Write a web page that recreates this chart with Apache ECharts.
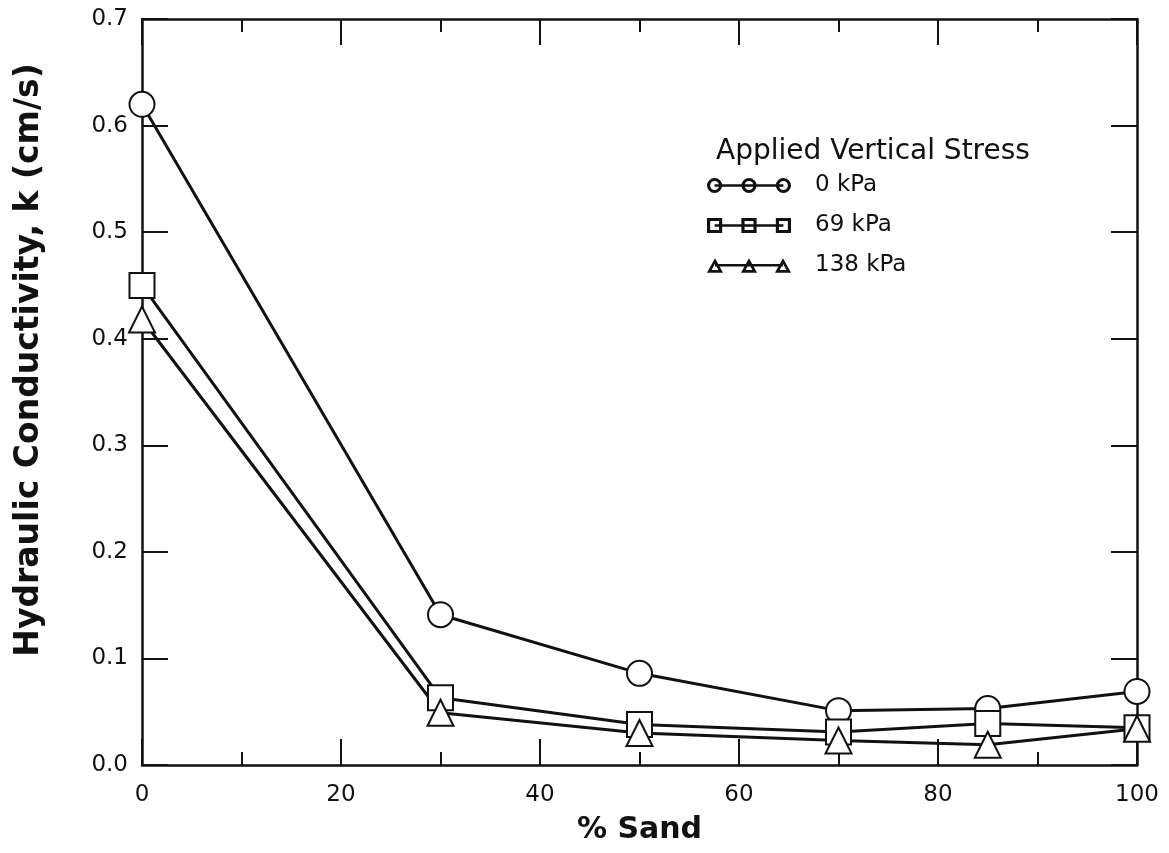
<!DOCTYPE html>
<html><head><meta charset="utf-8">
<script src="https://cdn.jsdelivr.net/npm/echarts@6/dist/echarts.min.js"></script>
<style>html,body{margin:0;padding:0;background:#fff}#c{width:1169px;height:853px}</style>
</head><body><div id="c"></div>
<script>
const sandPct = [0, 30, 50, 70, 85, 100];
const k0kPa   = [0.620, 0.141, 0.086, 0.051, 0.053, 0.069];
const k69kPa  = [0.450, 0.063, 0.038, 0.031, 0.039, 0.035];
const k138kPa = [0.418, 0.049, 0.030, 0.023, 0.019, 0.034];
const seriesNames = ['0 kPa', '69 kPa', '138 kPa'];
const xTicks = [0, 20, 40, 60, 80, 100];
const yTicks = [0.0, 0.1, 0.2, 0.3, 0.4, 0.5, 0.6, 0.7];
const xTitle = '% Sand';
const yTitle = 'Hydraulic Conductivity, k (cm/s)';
const legendTitle = 'Applied Vertical Stress';

const FONT = 'DejaVu Sans';
function pairs(ys){ return sandPct.map((x,i)=>[x, ys[i]]); }

// legend icons: three hollow markers joined by a line (filled path with holes)
const centers = [8, 42, 76];
const bar = 'M8,8.7 L76,8.7 L76,11.3 L8,11.3 Z ';
function circleIcon(){
  let p = bar;
  centers.forEach(c=>{
    p += `M${c-7.5},10 A7.5,7.5 0 1,1 ${c+7.5},10 A7.5,7.5 0 1,1 ${c-7.5},10 Z `;
    p += `M${c-4.4},10 A4.4,4.4 0 1,0 ${c+4.4},10 A4.4,4.4 0 1,0 ${c-4.4},10 Z `;
  });
  return 'path://' + p;
}
function rectIcon(){
  let p = bar;
  centers.forEach(c=>{
    p += `M${c-7.5},2.5 L${c+7.5},2.5 L${c+7.5},17.5 L${c-7.5},17.5 Z `;
    p += `M${c-4.4},5.6 L${c-4.4},14.4 L${c+4.4},14.4 L${c+4.4},5.6 Z `;
  });
  return 'path://' + p;
}
function triIcon(){
  let p = bar;
  centers.forEach(c=>{
    p += `M${c-8},17.5 L${c},3 L${c+8},17.5 Z `;
    p += `M${c-3.4},14.8 L${c+3.4},14.8 L${c},8.4 Z `;
  });
  return 'path://' + p;
}

const GRID = {left: 142, right: 32, top: 19, bottom: 88};
const plotWidth = 1169 - GRID.left - GRID.right;
const TICK_PX = 26;
const tickLenX = TICK_PX / plotWidth * (xTicks[xTicks.length-1] - xTicks[0]);

const chart = echarts.init(document.getElementById('c'));
const tickStyle = {color: '#111', width: 2};
function axisLine(show){ return {show: show, onZero: false, lineStyle: {color: '#111', width: 2.5}}; }
const lab = {color: '#111', fontFamily: FONT, fontSize: 23};

const seriesList = [
  {name: seriesNames[0], type: 'line', data: pairs(k0kPa), symbol: 'emptyCircle', symbolSize: 25},
  {name: seriesNames[1], type: 'line', data: pairs(k69kPa), symbol: 'emptyRect', symbolSize: 25},
  {name: seriesNames[2], type: 'line', data: pairs(k138kPa), symbol: 'emptyTriangle', symbolSize: 26}
].map(s => Object.assign(s, {
  clip: false,
  color: '#111',
  lineStyle: {color: '#111', width: 3},
  itemStyle: {color: '#111', borderColor: '#111', borderWidth: 3},
  emphasis: {disabled: true}
}));
// inward tick marks on the left frame, placed through the axis scales
seriesList[0].markLine = {
  silent: true, symbol: 'none', animation: false, z: 1,
  label: {show: false},
  lineStyle: {color: '#111', width: 2, type: 'solid'},
  emphasis: {disabled: true},
  data: yTicks.slice(1, -1).map(v => [{coord: [xTicks[0], v]}, {coord: [xTicks[0] + tickLenX, v]}])
};

chart.setOption({
  animation: false,
  backgroundColor: '#fff',
  grid: GRID,
  title: {
    text: legendTitle, left: 711, top: 133,
    textStyle: {fontFamily: FONT, fontSize: 28, fontWeight: 'normal', color: '#111'}
  },
  graphic: [{
    type: 'text', x: 29, y: 360, rotation: Math.PI / 2,
    style: {text: yTitle, fill: '#111', font: 'bold 33px "DejaVu Sans"', align: 'center', verticalAlign: 'middle'}
  }],
  legend: {
    orient: 'vertical', left: 707, top: 174, padding: 0,
    itemWidth: 84, itemHeight: 20, itemGap: 17,
    textStyle: {fontFamily: FONT, fontSize: 23, color: '#111', padding: [0,0,0,19]},
    itemStyle: {color: '#111', borderWidth: 0},
    data: [
      {name: seriesNames[0], icon: circleIcon()},
      {name: seriesNames[1], icon: rectIcon()},
      {name: seriesNames[2], icon: triIcon()}
    ]
  },
  xAxis: [
    {
      type: 'value', min: xTicks[0], max: xTicks[xTicks.length-1], interval: 20,
      name: xTitle, nameLocation: 'middle', nameGap: 50,
      nameTextStyle: {fontFamily: FONT, fontSize: 30, fontWeight: 'bold', color: '#111'},
      axisLine: axisLine(true), splitLine: {show: false},
      axisTick: {show: true, inside: true, length: TICK_PX, lineStyle: tickStyle},
      minorTick: {show: true, splitNumber: 2, length: 13, lineStyle: tickStyle},
      axisLabel: Object.assign({margin: 19}, lab)
    },
    {
      type: 'value', position: 'top', min: 0, max: 100, interval: 20,
      axisLine: axisLine(true), splitLine: {show: false},
      axisTick: {show: true, inside: true, length: TICK_PX, lineStyle: tickStyle},
      minorTick: {show: true, splitNumber: 2, length: 13, lineStyle: tickStyle},
      axisLabel: {show: false}
    }
  ],
  yAxis: [
    {
      type: 'value', position: 'left', min: yTicks[0], max: yTicks[yTicks.length-1], interval: 0.1,
      axisLine: axisLine(true), splitLine: {show: false},
      axisTick: {show: true, inside: true, length: TICK_PX, lineStyle: tickStyle},
      axisLabel: Object.assign({margin: 14, formatter: v => v.toFixed(1)}, lab)
    },
    {
      type: 'value', position: 'right', min: 0, max: 0.7, interval: 0.1,
      axisLine: axisLine(true), splitLine: {show: false},
      axisTick: {show: true, inside: true, length: TICK_PX, lineStyle: tickStyle},
      axisLabel: {show: false}
    }
  ],
  series: seriesList
});
</script>
</body></html>
